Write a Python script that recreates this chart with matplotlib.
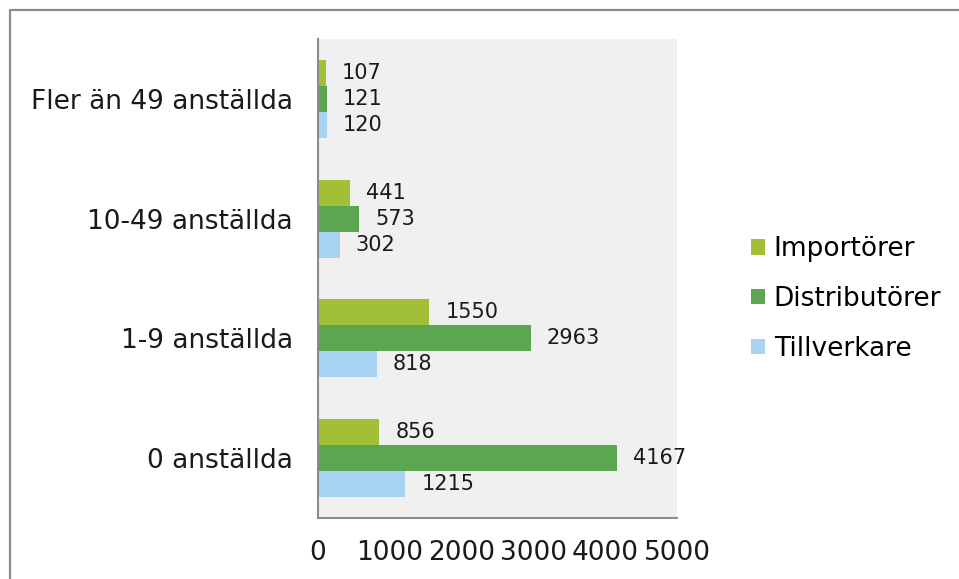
import numpy as np
import matplotlib.pyplot as plt
from matplotlib.lines import Line2D

categories = ['0 anställda', '1-9 anställda', '10-49 anställda', 'Fler än 49 anställda']
series = ['Importörer', 'Distributörer', 'Tillverkare']
importorer = [856, 1550, 441, 107]
distributorer = [4167, 2963, 573, 121]
tillverkare = [1215, 818, 302, 120]
xticks = [0, 1000, 2000, 3000, 4000, 5000]

colors = ['#a2bf38', '#5da651', '#a8d3f3']

plt.rcParams['font.family'] = ['DejaVu Sans']

W, H = 959, 579
fig = plt.figure(figsize=(W / 100, H / 100), dpi=100)
ax = fig.add_axes([318 / W, 1 - 518 / H, (677 - 318) / W, (518 - 39) / H])
ax.set_facecolor('#f0f0f0')

y = np.arange(len(categories))
h = 0.217
values = [importorer, distributorer, tillverkare]
offsets = [h, 0, -h]
for name, vals, off, c in zip(series, values, offsets, colors):
    bars = ax.barh(y + off, vals, height=h, color=c, label=name)
    for b, v in zip(bars, vals):
        ax.annotate(str(v), (b.get_width(), b.get_y() + b.get_height() / 2),
                    xytext=(16, 0), textcoords='offset pixels',
                    va='center', ha='left', fontsize=15, color='#1a1a1a')

ax.set_xlim(0, 5000)
ax.set_ylim(-0.5, 3.5)
ax.set_xticks(xticks)
ax.set_xticklabels([str(t) for t in xticks], fontsize=19)
ax.set_yticks(y)
ax.set_yticklabels(categories, fontsize=19)
ax.tick_params(axis='x', length=0, pad=16, colors='#1a1a1a')
ax.tick_params(axis='y', length=0, pad=18, colors='#1a1a1a')
for s in ['top', 'right']:
    ax.spines[s].set_visible(False)
for s in ['left', 'bottom']:
    ax.spines[s].set_color('#8c8c8c')
    ax.spines[s].set_linewidth(1.5)

fig.legend(loc='center left', bbox_to_anchor=(751 / W, 1 - 299 / H),
           frameon=False, fontsize=19, handlelength=0.53, handleheight=0.53,
           handletextpad=0.33, labelspacing=0.9, borderaxespad=0, borderpad=0)

# chart-area border (top and left edges visible)
fig.add_artist(Line2D([9.5 / W, 9.5 / W, 1], [0, 1 - 9.5 / H, 1 - 9.5 / H],
                      transform=fig.transFigure, color='#8c8c8c', lw=1.6))

fig.savefig('out.png', dpi=100)
